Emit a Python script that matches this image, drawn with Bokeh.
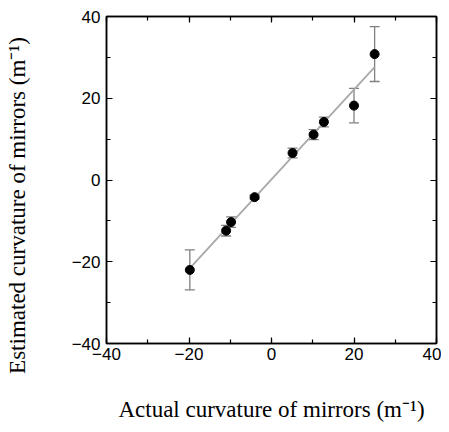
import math
from bokeh.plotting import figure
from bokeh.models import Range1d, LinearAxis, SingleIntervalTicker, Whisker, ColumnDataSource, TeeHead, Label
from bokeh.embed import file_html
from bokeh.resources import INLINE

actual = [-19.8, -11.0, -9.8, -4.1, 5.1, 10.2, 12.7, 20.0, 25.0]
estimated = [-22.0, -12.4, -10.3, -4.2, 6.6, 11.1, 14.2, 18.2, 30.8]
err = [4.9, 1.3, 1.3, 0.5, 1.2, 1.2, 1.2, 4.2, 6.7]
fit_x = [-20.0, 25.0]
fit_y = [-21.8, 27.6]

src = ColumnDataSource(dict(
    x=actual, y=estimated,
    lo=[e - d for e, d in zip(estimated, err)],
    hi=[e + d for e, d in zip(estimated, err)],
))

W, H = 441, 424
p = figure(width=W, height=H, output_backend="svg", toolbar_location=None,
           x_range=Range1d(-40, 40), y_range=Range1d(-40, 40),
           min_border_left=106, min_border_right=5, min_border_top=16, min_border_bottom=80,
           x_axis_location=None, y_axis_location=None)
p.grid.visible = False
p.outline_line_color = "black"
p.outline_line_width = 1.5
p.background_fill_color = "white"
p.border_fill_color = "white"

def style(ax, labels=True):
    ax.ticker = SingleIntervalTicker(interval=20, num_minor_ticks=2)
    ax.major_tick_in = 6
    ax.major_tick_out = 0
    ax.minor_tick_in = 4
    ax.minor_tick_out = 0
    ax.axis_line_color = "black"
    ax.axis_line_width = 1.5
    ax.major_tick_line_width = 1.2
    ax.minor_tick_line_width = 1.2
    ax.major_label_text_font = "Liberation Sans"
    ax.major_label_text_font_size = "17px"
    ax.major_label_text_color = "black"
    if not labels:
        ax.major_label_text_font_size = "0px"
        ax.major_label_text_alpha = 0

xb = LinearAxis(axis_label="Actual curvature of mirrors (m⁻¹)")
style(xb)
xb.major_label_standoff = 4
xb.axis_label_standoff = 34
xb.axis_label_text_font = "Liberation Serif"
xb.axis_label_text_font_style = "normal"
xb.axis_label_text_font_size = "23px"
xb.axis_label_text_color = "black"
p.add_layout(xb, "below")

yl = LinearAxis()
style(yl)
yl.major_label_standoff = 6
p.add_layout(yl, "left")

xt = LinearAxis()
style(xt, labels=False)
p.add_layout(xt, "above")
yr = LinearAxis()
style(yr, labels=False)
p.add_layout(yr, "right")

ylab = Label(x=-26, y=138, x_units="screen", y_units="screen",
             text="Estimated curvature of mirrors (m⁻¹)", angle=math.pi / 2,
             text_align="center", text_baseline="middle",
             text_font="Liberation Serif", text_font_size="23px", text_color="black")
p.add_layout(ylab, "left")

p.line(fit_x, fit_y, line_color="#a8a8a8", line_width=1.8)

w = Whisker(source=src, base="x", lower="lo", upper="hi", dimension="height",
            line_color="#808080", line_width=1.3,
            lower_head=TeeHead(size=10, line_color="#808080", line_width=1.3),
            upper_head=TeeHead(size=10, line_color="#808080", line_width=1.3))
p.add_layout(w)

p.scatter("x", "y", source=src, size=9, fill_color="black", line_color="black")

open("out.html", "w").write(file_html(p, INLINE))
